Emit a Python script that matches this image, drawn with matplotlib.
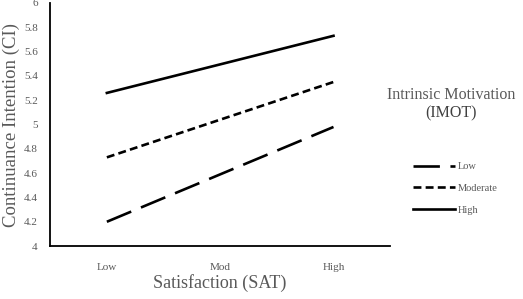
import matplotlib.pyplot as plt

plt.rcParams['font.family'] = ['Liberation Serif', 'DejaVu Serif']

sat_levels = ["Low", "Mod", "High"]
imot_levels = ["Low", "Moderate", "High"]
ci_low = [4.20, 4.59, 4.98]
ci_moderate = [4.73, 5.04, 5.35]
ci_high = [5.26, 5.495, 5.73]

fig = plt.figure(figsize=(5.23, 2.99), dpi=100)
ax = fig.add_axes([0.096, 0.177, 0.65, 0.813])

x = range(len(sat_levels))
ax.plot(x, ci_low, color="black", lw=1.9, dashes=(10, 4), label=imot_levels[0])
ax.plot(x, ci_moderate, color="black", lw=1.9, dashes=(3, 1.6), label=imot_levels[1])
ax.plot(x, ci_high, color="black", lw=1.9, label=imot_levels[2])

ax.set_xlim(-0.5, 2.5)
ax.set_ylim(4, 6)
ax.set_xticks(list(x))
ax.set_xticklabels(sat_levels)
ax.set_yticks([4, 4.2, 4.4, 4.6, 4.8, 5, 5.2, 5.4, 5.6, 5.8, 6])
ax.set_yticklabels(["4", "4.2", "4.4", "4.6", "4.8", "5", "5.2", "5.4", "5.6", "5.8", "6"])
ax.tick_params(length=0, labelsize=8, colors="#595959", pad=12)
ax.tick_params(axis="y", pad=9)
for s in ["top", "right"]:
    ax.spines[s].set_visible(False)
for s in ["left", "bottom"]:
    ax.spines[s].set_linewidth(1.3)

ax.set_xlabel("Satisfaction (SAT)", fontsize=13, color="#595959", labelpad=2)
ax.set_ylabel("Continuance Intention (CI)", fontsize=13.5, color="#595959", labelpad=3)

fig.text(0.862, 0.683, "Intrinsic Motivation", ha="center", va="center", fontsize=11.5, color="#595959")
fig.text(0.862, 0.622, "(IMOT)", ha="center", va="center", fontsize=11.5, color="#404040")

ax.legend(loc="center left", bbox_to_anchor=(0.772, 0.37), bbox_transform=fig.transFigure,
          frameon=False, fontsize=7.5, handlelength=4.0, handletextpad=0.3, labelspacing=1.2,
          labelcolor="#595959")

fig.savefig("out.png", dpi=100)
